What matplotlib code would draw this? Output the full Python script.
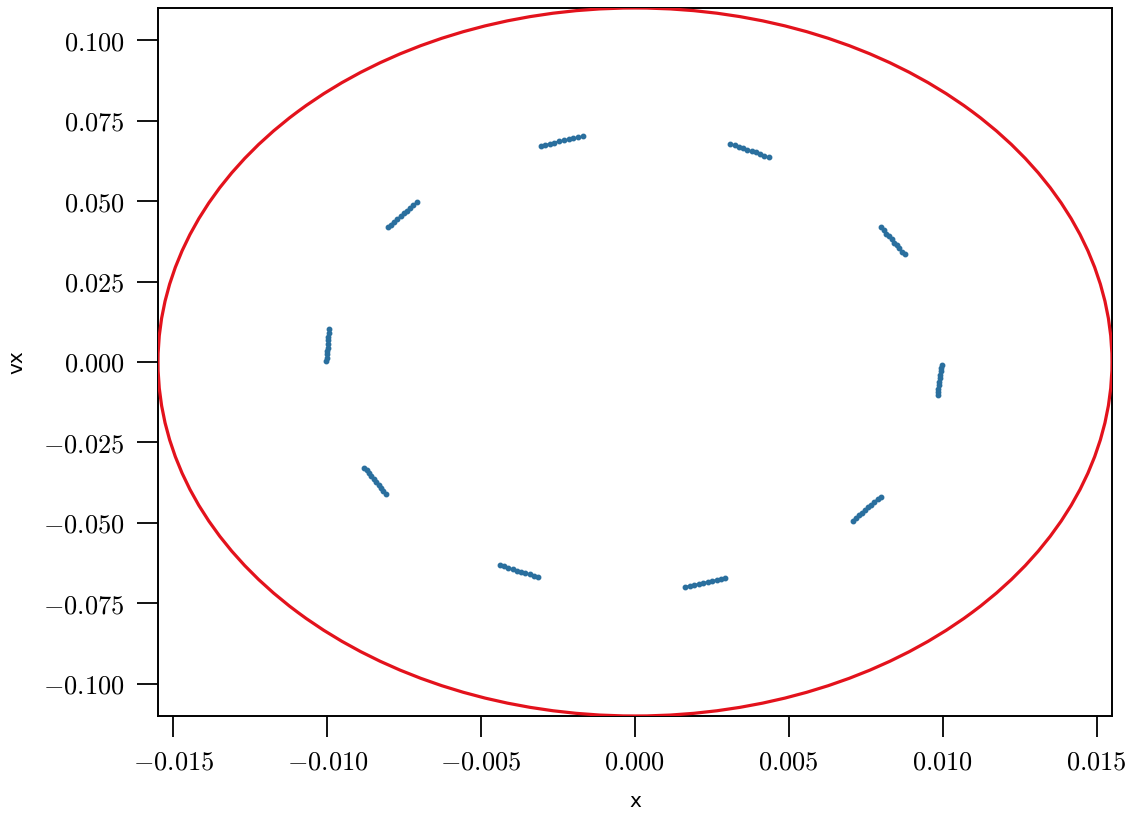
import matplotlib
matplotlib.use("Agg")
import matplotlib.pyplot as plt
from matplotlib.patches import Ellipse
from matplotlib.ticker import FuncFormatter

plt.rcParams['mathtext.fontset'] = 'cm'

# Stroboscopic samples (x, vx), one list per cluster
cluster_x = [
    [-0.01003, -0.01002, -0.01000, -0.01001, -0.00999, -0.00998, -0.00997, -0.00996, -0.00994, -0.00993],
    [-0.00804, -0.00794, -0.00783, -0.00773, -0.00762, -0.00752, -0.00741, -0.00731, -0.00720, -0.00710],
    [-0.00307, -0.00292, -0.00277, -0.00262, -0.00246, -0.00231, -0.00216, -0.00200, -0.00185, -0.00170],
    [0.00310, 0.00324, 0.00338, 0.00351, 0.00365, 0.00379, 0.00393, 0.00406, 0.00420, 0.00434],
    [0.00800, 0.00808, 0.00817, 0.00825, 0.00834, 0.00842, 0.00851, 0.00859, 0.00868, 0.00876],
    [0.00996, 0.00995, 0.00993, 0.00992, 0.00990, 0.00989, 0.00988, 0.00986, 0.00985, 0.00983],
    [0.00798, 0.00788, 0.00778, 0.00768, 0.00758, 0.00747, 0.00737, 0.00727, 0.00717, 0.00707],
    [0.00294, 0.00280, 0.00265, 0.00251, 0.00236, 0.00222, 0.00208, 0.00193, 0.00179, 0.00164],
    [-0.00440, -0.00426, -0.00412, -0.00398, -0.00384, -0.00370, -0.00356, -0.00342, -0.00328, -0.00314],
    [-0.00880, -0.00872, -0.00864, -0.00857, -0.00849, -0.00841, -0.00833, -0.00826, -0.00818, -0.00810],
]
cluster_vx = [
    [0.0002, 0.0013, 0.0024, 0.0035, 0.0045, 0.0056, 0.0067, 0.0078, 0.0090, 0.0101],
    [0.0418, 0.0427, 0.0436, 0.0444, 0.0453, 0.0462, 0.0470, 0.0479, 0.0488, 0.0496],
    [0.0670, 0.0675, 0.0678, 0.0682, 0.0686, 0.0689, 0.0692, 0.0695, 0.0698, 0.0701],
    [0.0677, 0.0673, 0.0669, 0.0664, 0.0659, 0.0655, 0.0651, 0.0646, 0.0641, 0.0636],
    [0.0418, 0.0409, 0.0399, 0.0390, 0.0381, 0.0371, 0.0362, 0.0353, 0.0343, 0.0334],
    [-0.0008, -0.0019, -0.0029, -0.0040, -0.0051, -0.0061, -0.0072, -0.0083, -0.0093, -0.0104],
    [-0.0418, -0.0426, -0.0434, -0.0443, -0.0451, -0.0460, -0.0468, -0.0476, -0.0485, -0.0493],
    [-0.0670, -0.0673, -0.0677, -0.0680, -0.0683, -0.0686, -0.0689, -0.0692, -0.0695, -0.0698],
    [-0.0630, -0.0635, -0.0639, -0.0644, -0.0648, -0.0652, -0.0656, -0.0660, -0.0664, -0.0667],
    [-0.0328, -0.0337, -0.0346, -0.0355, -0.0364, -0.0373, -0.0382, -0.0391, -0.0400, -0.0409],
]

# Boundary ellipse semi-axes
x_max = 0.0155
vx_max = 0.110

xticks = [-0.015, -0.010, -0.005, 0.000, 0.005, 0.010, 0.015]
yticks = [-0.100, -0.075, -0.050, -0.025, 0.000, 0.025, 0.050, 0.075, 0.100]

fig = plt.figure(figsize=(11.31, 8.14), dpi=100)
ax = fig.add_axes([0.1397, 0.1204, 0.8435, 0.8698])

ax.add_patch(Ellipse((0, 0), 2 * x_max, 2 * vx_max, fill=False,
                     edgecolor='#e3121c', linewidth=2.3, zorder=3))

for cx, cv in zip(cluster_x, cluster_vx):
    ax.plot(cx, cv, linestyle='-', linewidth=1.2, marker='o', markersize=3.2,
            color='#2a6f9e', zorder=2)

ax.set_xlim(-x_max, x_max)
ax.set_ylim(-vx_max, vx_max)
ax.set_xticks(xticks)
ax.set_yticks(yticks)

fmt = FuncFormatter(lambda v, p: r'$%.3f$' % (0.0 if abs(v) < 1e-12 else v))
ax.xaxis.set_major_formatter(fmt)
ax.yaxis.set_major_formatter(fmt)

ax.tick_params(axis='both', which='major', direction='out', length=15,
               width=1.3, pad=9, labelsize=19, top=False, right=False)
for s in ax.spines.values():
    s.set_linewidth(1.4)

ax.set_xlabel('x', fontsize=14.5, labelpad=12)
ax.set_ylabel('vx', fontsize=14.5, labelpad=12)

fig.savefig('out.png', dpi=100)
